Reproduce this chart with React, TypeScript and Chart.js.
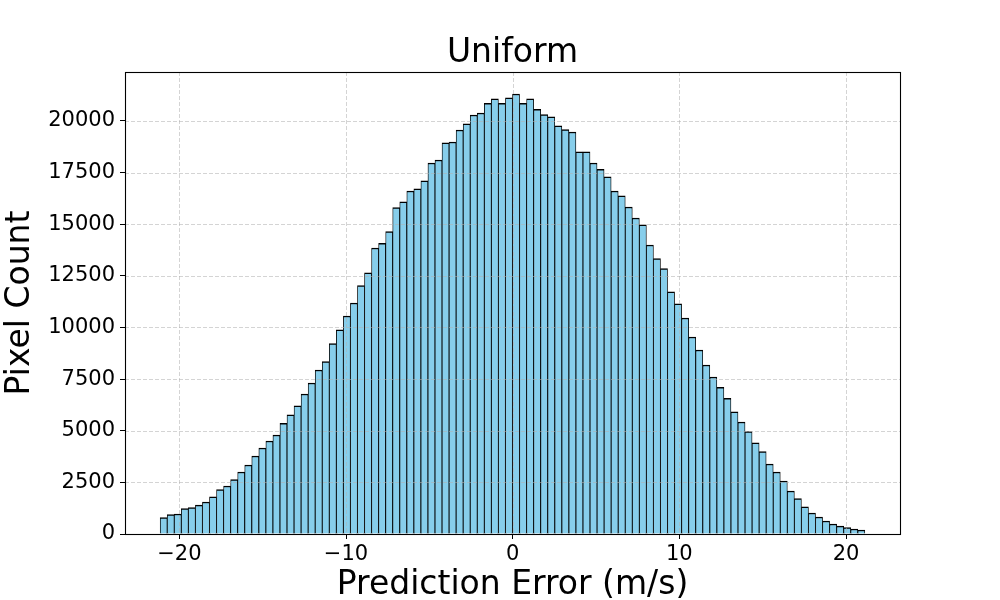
import React, { useEffect, useRef } from "react";
import { Chart, registerables } from "chart.js";

Chart.register(...registerables);

const titleText = "Uniform";
const xAxisLabel = "Prediction Error (m/s)";
const yAxisLabel = "Pixel Count";

// Histogram bins: 100 equal-width bins between binMin and binMax
const binMin = -21.15;
const binMax = 21.13;
const counts = [
  800, 935, 970, 1225, 1275, 1400, 1550, 1800, 2145, 2325,
  2630, 3000, 3340, 3775, 4165, 4505, 4795, 5355, 5775, 6200,
  6780, 7310, 7940, 8345, 9215, 9880, 10555, 11185, 12025, 12640,
  13850, 14075, 14640, 15800, 16080, 16610, 16710, 17095, 17965, 18110,
  18935, 18980, 19560, 19855, 20290, 20385, 20850, 21065, 20850, 21115,
  21305, 20850, 21065, 20560, 20305, 20195, 19760, 19580, 19465, 18500,
  18500, 17965, 17655, 17290, 16610, 16370, 15835, 15300, 14965, 13995,
  13330, 12850, 11720, 11140, 10460, 9540, 8910, 8185, 7600, 7100,
  6565, 5910, 5425, 4955, 4420, 3985, 3390, 3000, 2565, 2080,
  1710, 1320, 1015, 825, 630, 485, 385, 305, 240, 195,
];

const xTicks = [-20, -10, 0, 10, 20];
const xTickLabels = ["\u221220", "\u221210", "0", "10", "20"];
const yTicks = [0, 2500, 5000, 7500, 10000, 12500, 15000, 17500, 20000];
const yTickLabels = ["0", "2500", "5000", "7500", "10000", "12500", "15000", "17500", "20000"];

const xMin = -23.26;
const xMax = 23.24;
const yMin = 0;
const yMax = 22370;

const FONT = "'DejaVu Sans', sans-serif";

export default function App() {
  const ref = useRef<HTMLCanvasElement | null>(null);

  useEffect(() => {
    if (!ref.current) return;
    const binWidth = (binMax - binMin) / counts.length;
    const points = counts.map((c, i) => ({ x: binMin + (i + 0.5) * binWidth, y: c }));

    const overlay = {
      id: "overlay",
      afterDatasetsDraw(chart: any) {
        const { ctx, chartArea: a, scales } = chart;
        const xs = scales.x;
        const ys = scales.y;
        ctx.save();
        ctx.strokeStyle = "rgba(176,176,176,0.55)";
        ctx.lineWidth = 1;
        ctx.setLineDash([4, 2]);
        xTicks.forEach((v) => {
          const px = Math.round(xs.getPixelForValue(v)) + 0.5;
          ctx.beginPath();
          ctx.moveTo(px, a.top);
          ctx.lineTo(px, a.bottom);
          ctx.stroke();
        });
        yTicks.forEach((v) => {
          const py = Math.round(ys.getPixelForValue(v)) + 0.5;
          ctx.beginPath();
          ctx.moveTo(a.left, py);
          ctx.lineTo(a.right, py);
          ctx.stroke();
        });
        ctx.restore();
      },
      afterDraw(chart: any) {
        const { ctx, chartArea: a } = chart;
        ctx.save();
        ctx.strokeStyle = "#000";
        ctx.lineWidth = 1.1;
        ctx.setLineDash([]);
        ctx.strokeRect(Math.round(a.left) + 0.5, Math.round(a.top) + 0.5, Math.round(a.right - a.left), Math.round(a.bottom - a.top));
        ctx.fillStyle = "#000";
        ctx.font = `33px ${FONT}`;
        ctx.textAlign = "center";
        ctx.textBaseline = "alphabetic";
        ctx.fillText(titleText, (a.left + a.right) / 2, a.top - 10);
        ctx.restore();
      },
    };

    const chart = new Chart(ref.current, {
      type: "bar",
      data: {
        datasets: [
          {
            data: points as any,
            backgroundColor: "#87CEEB",
            borderColor: "#000000",
            borderWidth: { top: 1.5, left: 0.85, right: 0.85, bottom: 0 } as any,
            borderSkipped: false as any,
            barPercentage: 1,
            categoryPercentage: 1,
          },
        ],
      },
      options: {
        animation: false,
        responsive: false,
        events: [],
        layout: { padding: { top: 72, right: 100, left: 0, bottom: 0 } },
        plugins: {
          legend: { display: false },
          title: { display: false },
          tooltip: { enabled: false },
        },
        scales: {
          x: {
            type: "linear",
            min: xMin,
            max: xMax,
            offset: false,
            afterBuildTicks: (s: any) => {
              s.ticks = xTicks.map((v) => ({ value: v }));
            },
            afterFit: (s: any) => {
              s.height = 66;
            },
            ticks: {
              callback: (_v: any, i: number) => xTickLabels[i],
              font: { family: FONT, size: 21 },
              color: "#000",
              padding: 3,
              autoSkip: false,
              maxRotation: 0,
              minRotation: 0,
            },
            grid: {
              offset: false,
              drawOnChartArea: false,
              drawTicks: true,
              tickLength: 5,
              tickColor: "#000",
              tickWidth: 1,
            },
            border: { display: false },
            title: {
              display: true,
              text: xAxisLabel,
              color: "#000",
              font: { family: FONT, size: 33, lineHeight: 1 },
              padding: { top: 0, bottom: -2 },
            },
          },
          y: {
            type: "linear",
            min: yMin,
            max: yMax,
            afterBuildTicks: (s: any) => {
              s.ticks = yTicks.map((v) => ({ value: v }));
            },
            afterFit: (s: any) => {
              s.width = 125;
            },
            ticks: {
              callback: (_v: any, i: number) => yTickLabels[i],
              font: { family: FONT, size: 21 },
              color: "#000",
              padding: 5,
              autoSkip: false,
            },
            grid: {
              drawOnChartArea: false,
              drawTicks: true,
              tickLength: 5,
              tickColor: "#000",
              tickWidth: 1,
            },
            border: { display: false },
            title: {
              display: true,
              text: yAxisLabel,
              color: "#000",
              font: { family: FONT, size: 33, lineHeight: 1 },
              padding: { top: 4, bottom: 0 },
            },
          },
        },
      } as any,
      plugins: [overlay],
    });

    return () => {
      chart.destroy();
    };
  }, []);

  return (
    <div style={{ position: "absolute", left: 0, top: 0, width: 1000, height: 600, background: "#fff" }}>
      <canvas ref={ref} width={1000} height={600} style={{ display: "block" }} />
    </div>
  );
}
